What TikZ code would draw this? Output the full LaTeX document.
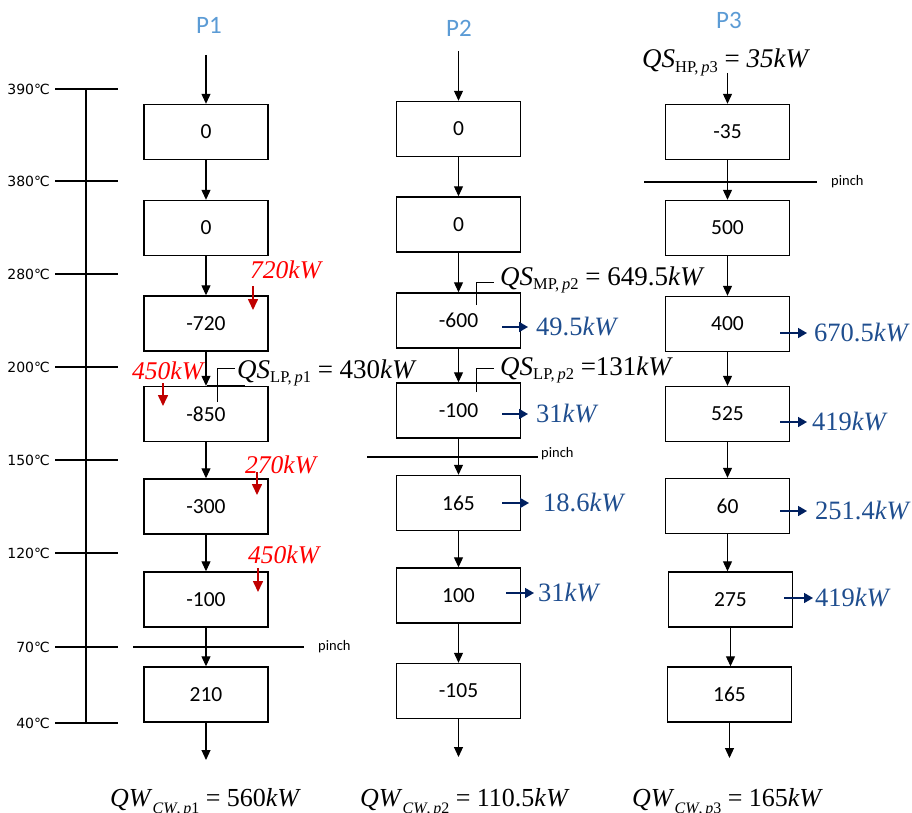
\documentclass[tikz,border=0pt]{standalone}
\usepackage{fontspec}
\setmainfont{Liberation Serif}
\newfontfamily\boxfont{Carlito}
\newfontfamily\tempfont{DejaVu Sans}
\usetikzlibrary{arrows.meta}
\definecolor{hdr}{HTML}{5B9BD5}
\definecolor{redtxt}{HTML}{FF0000}
\definecolor{redarr}{HTML}{C00000}
\definecolor{bluetxt}{HTML}{1F4E8F}
\definecolor{bluearr}{HTML}{002060}
\newcommand{\qsub}[1]{\raisebox{-0.35ex}{\fontsize{16.5}{16.5}\selectfont #1}}
\newcommand{\qwsub}[1]{\raisebox{-0.6ex}{\fontsize{16}{16}\selectfont #1}}
\tikzset{
  procbox/.style={draw, line width=1.4pt, minimum width=124pt, minimum height=55pt, inner sep=0pt, font=\boxfont\fontsize{21.5}{22}\selectfont},
  flow/.style={-{Triangle[length=10pt,width=9pt]}, line width=1.1pt},
  hot/.style={draw=redarr, line width=1.6pt, -{Triangle[length=11pt,width=10pt]}},
  cold/.style={draw=bluearr, line width=1.6pt, -{Triangle[length=9pt,width=10pt]}},
  pinchline/.style={line width=1.8pt},
  axisline/.style={line width=1.8pt},
  tlabel/.style={font=\tempfont\fontsize{14}{14}\selectfont, anchor=east, inner sep=0pt},
  pinchlbl/.style={font=\boxfont\fontsize{14.5}{15}\selectfont, anchor=west, inner sep=0pt},
  hdrlbl/.style={text=hdr, font=\boxfont\fontsize{25}{25}\selectfont, inner sep=0pt},
  redlbl/.style={text=redtxt, font=\fontsize{25.5}{25.5}\selectfont\itshape, anchor=west, inner sep=0pt},
  bluelbl/.style={text=bluetxt, font=\fontsize{26.5}{26.5}\selectfont, anchor=west, inner sep=0pt},
  qslbl/.style={font=\fontsize{27}{27}\selectfont, anchor=base west, inner sep=0pt},
  qwlbl/.style={font=\fontsize{26}{26}\selectfont, anchor=base west, inner sep=0pt},
  leader/.style={line width=1pt},
  leaderfoot/.style={line width=1.8pt}
}
\begin{document}
\begin{tikzpicture}[x=1pt,y=-1pt]
\useasboundingbox (0,0) rectangle (912,813);

% temperature axis
\draw[axisline] (86,89) -- (86,723);
\foreach \yy/\tt in {89/390,181/380,274/280,367/200,460/150,553/120,647/70,723/40}{
  \draw[axisline] (55,\yy) -- (118,\yy);
  \node[tlabel] (t\tt) at (50,\yy) {\tt ℃};
}

% headers
\node[hdrlbl] (h1) at (209,25) {P1};
\node[hdrlbl] (h2) at (459,28) {P2};
\node[hdrlbl] (h3) at (729,20) {P3};

% P1 boxes
\node[procbox] (p1b1) at (206,132) {0};
\node[procbox] (p1b2) at (206,228) {0};
\node[procbox] (p1b3) at (206,323.5) {-720};
\node[procbox] (p1b4) at (206,414) {-850};
\node[procbox] (p1b5) at (206,506.5) {-300};
\node[procbox] (p1b6) at (206,599.5) {-100};
\node[procbox] (p1b7) at (206,694.5) {210};
% P2 boxes
\node[procbox] (p2b1) at (458.5,129) {0};
\node[procbox] (p2b2) at (458.5,224.5) {0};
\node[procbox] (p2b3) at (458.5,320.5) {-600};
\node[procbox] (p2b4) at (458.5,410.5) {-100};
\node[procbox] (p2b5) at (458.5,503) {165};
\node[procbox] (p2b6) at (458.5,595.5) {100};
\node[procbox] (p2b7) at (458.5,691) {-105};
% P3 boxes
\node[procbox] (p3b1) at (727.5,132) {-35};
\node[procbox] (p3b2) at (727.5,228) {500};
\node[procbox] (p3b3) at (727.5,324) {400};
\node[procbox] (p3b4) at (727.5,414) {525};
\node[procbox] (p3b5) at (727.5,506) {60};
\node[procbox] (p3b6) at (730.5,599.5) {275};
\node[procbox] (p3b7) at (729.5,694.5) {165};

% flow arrows
\coordinate (p1top) at (206,55);
\coordinate (p2top) at (458.5,51);
\coordinate (p3top) at (727.5,73);
\coordinate (p1bot) at (206,760);
\coordinate (p2bot) at (458.5,757);
\coordinate (p3bot) at (729.5,758);
\draw[flow] (p1top) -- (p1b1);
\draw[flow] (p2top) -- (p2b1);
\draw[flow] (p3top) -- (p3b1);
\foreach \c in {1,2}{
  \draw[flow] (p\c b1) -- (p\c b2);
  \draw[flow] (p\c b2) -- (p\c b3);
  \draw[flow] (p\c b3) -- (p\c b4);
  \draw[flow] (p\c b4) -- (p\c b5);
  \draw[flow] (p\c b5) -- (p\c b6);
  \draw[flow] (p\c b6) -- (p\c b7);
}
\draw[flow] (p3b1) -- (p3b2);
\draw[flow] (p3b2) -- (p3b3);
\draw[flow] (p3b3) -- (p3b4);
\draw[flow] (p3b4) -- (p3b5);
\draw[flow] (p3b5) -- (p3b5 |- p3b6.north);
\draw[flow] (p3b6) -- (p3b6 |- p3b7.north);
\draw[flow] (p1b7) -- (p1bot);
\draw[flow] (p2b7) -- (p2bot);
\draw[flow] (p3b7) -- (p3bot);

% pinch lines
\draw[pinchline] (133,647) -- (304,647);
\node[pinchlbl] (pin1) at (318,647) {pinch};
\draw[pinchline] (367,457) -- (538,457);
\node[pinchlbl] (pin2) at (541,454) {pinch};
\draw[pinchline] (644,182) -- (817,182);
\node[pinchlbl] (pin3) at (831,182) {pinch};

% red heat inputs (P1)
\node[redlbl] (r1) at (250,270) {720kW};
\coordinate (r1a) at (253,286); \coordinate (r1b) at (253,310);
\draw[hot] (r1a) -- (r1b);
\node[redlbl] (r2) at (132,371) {450kW};
\coordinate (r2a) at (163,383); \coordinate (r2b) at (163,406);
\draw[hot] (r2a) -- (r2b);
\node[redlbl] (r3) at (245,465) {270kW};
\coordinate (r3a) at (257,472); \coordinate (r3b) at (257,495);
\draw[hot] (r3a) -- (r3b);
\node[redlbl] (r4) at (248,555) {450kW};
\coordinate (r4a) at (258,568); \coordinate (r4b) at (258,592);
\draw[hot] (r4a) -- (r4b);

% blue heat outputs
\foreach \nm/\xa/\xb/\yy/\xl/\txt in {
  b1/502/528/327/536/49.5,
  b2/502/528/414/536/31,
  b3/502/529/503/543/18.6,
  b4/506/534/593/538/31,
  b5/780/807/333/814/670.5,
  b6/780/807/422/812/419,
  b7/780/807/511/815/251.4,
  b8/784/813/598/815/419}{
  \coordinate (\nm a) at (\xa,\yy);
  \coordinate (\nm b) at (\xb,\yy);
  \draw[cold] (\nm a) -- (\nm b);
  \node[bluelbl] (\nm l) at (\xl,\yy) {\txt\textit{kW}};
}

% steam labels with leaders
\node[qslbl] (qs1) at (237,378) {\textit{QS}\qsub{LP,\,\textit{p}1} = 430\textit{kW}};
\draw[leader] (217,402) -- (217,368) -- (235,368);
\draw[leaderfoot] (207,386) -- (245,386);
\node[qslbl] (qs2) at (500,285) {\textit{QS}\qsub{MP,\,\textit{p}2} = 649.5\textit{kW}};
\draw[leader] (476,305) -- (476,282) -- (494,282);
\draw[leaderfoot] (466,293) -- (507,293);
\node[qslbl] (qs3) at (500,375) {\textit{QS}\qsub{LP,\,\textit{p}2} =131\textit{kW}};
\draw[leader] (476,392) -- (476,368) -- (494,368);
\draw[leaderfoot] (466,383) -- (507,383);
\node[qslbl] (qs4) at (642,68) {\textit{QS}\qsub{HP,\,\textit{p}3} = \textit{35kW}};

% cooling water
\node[qwlbl] (qw1) at (110,806) {\textit{QW}\qwsub{\textit{CW},\,\textit{p}1} = 560\textit{kW}};
\node[qwlbl] (qw2) at (360,806) {\textit{QW}\qwsub{\textit{CW},\,\textit{p}2} = 110.5\textit{kW}};
\node[qwlbl] (qw3) at (632,806) {\textit{QW}\qwsub{\textit{CW},\,\textit{p}3} = 165\textit{kW}};
\end{tikzpicture}
\end{document}
